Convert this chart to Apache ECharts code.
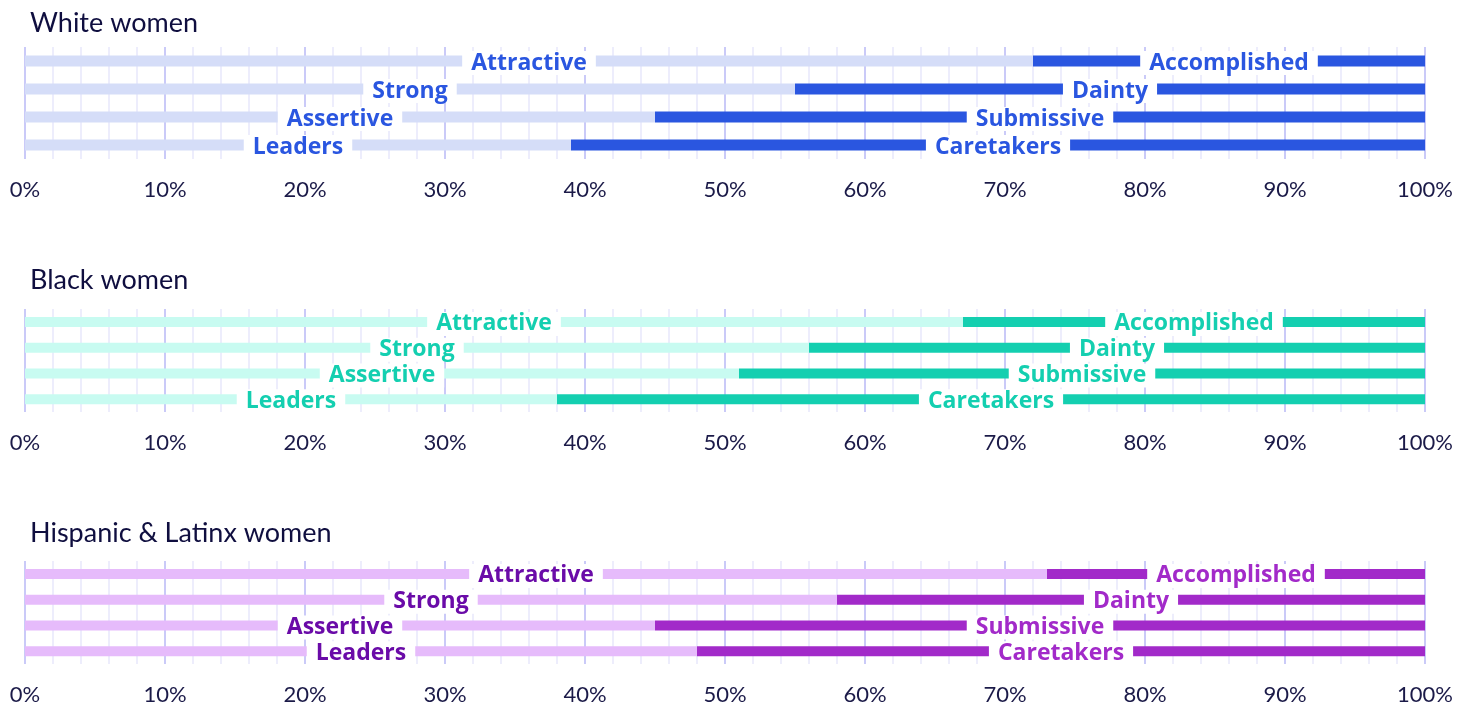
<!DOCTYPE html>
<html>
<head>
<meta charset="utf-8">
<script src="https://cdn.jsdelivr.net/npm/echarts@6/dist/echarts.min.js"></script>
<style>
html,body{margin:0;padding:0;background:#fff;}
#chart{width:1476px;height:706px;}
</style>
</head>
<body>
<div id="chart"></div>
<script>
const panelTitles = ['White women', 'Black women', 'Hispanic & Latinx women'];
const leftLabels = ['Attractive', 'Strong', 'Assertive', 'Leaders'];
const rightLabels = ['Accomplished', 'Dainty', 'Submissive', 'Caretakers'];
const categories = ['Attractive / Accomplished', 'Strong / Dainty', 'Assertive / Submissive', 'Leaders / Caretakers'];

const whiteLeft = [72, 55, 45, 39];
const whiteRight = [28, 45, 55, 61];
const blackLeft = [67, 56, 51, 38];
const blackRight = [33, 44, 49, 62];
const hispLeft = [73, 58, 45, 48];
const hispRight = [27, 42, 55, 52];

const panels = [
  {left: whiteLeft, right: whiteRight, light: '#d5ddf8', dark: '#2a56e0', lLab: '#2a56e0', rLab: '#2a56e0', top: 47, height: 112, bw: 11, titleTop: 10},
  {left: blackLeft, right: blackRight, light: '#c8fbf1', dark: '#14cfb0', lLab: '#14cfb0', rLab: '#14cfb0', top: 309, height: 103, bw: 10, titleTop: 267},
  {left: hispLeft, right: hispRight, light: '#e6bbfb', dark: '#a22ac9', lLab: '#6a0ba8', rLab: '#a22ac9', top: 561, height: 103, bw: 10, titleTop: 520}
];

const grid = [], xAxis = [], yAxis = [], series = [], title = [];
panels.forEach((p, i) => {
  title.push({text: panelTitles[i], left: 30, top: p.titleTop, padding: 0,
    textStyle: {fontFamily: 'Lato', fontWeight: 'normal', fontSize: 27, color: '#0f0e3f'}});
  grid.push({left: 25, right: 51, top: p.top, height: p.height, containLabel: false});
  xAxis.push({type: 'value', gridIndex: i, min: 0, max: 100, interval: 10,
    axisLine: {show: false}, axisTick: {show: false},
    axisLabel: {formatter: '{value}%', fontSize: 22, color: '#1b1a48', fontFamily: 'Lato', margin: 20},
    splitLine: {show: true, lineStyle: {color: '#b9b9f6', width: 1.5}},
    minorTick: {show: false, splitNumber: 5},
    minorSplitLine: {show: true, lineStyle: {color: '#e7e7fb', width: 1.5}}
  });
  yAxis.push({type: 'category', gridIndex: i, data: categories, inverse: true,
    axisLine: {show: false}, axisTick: {show: false}, axisLabel: {show: false}, splitLine: {show: false}});
  const mkLabel = (names, color) => ({
    show: true, position: 'inside', offset: [0, 2],
    formatter: (d) => names[d.dataIndex],
    color: color, fontFamily: 'Open Sans', fontWeight: 'bold', fontSize: 23,
    backgroundColor: '#ffffff', padding: [1, 9, 0, 9]
  });
  series.push({type: 'bar', name: 'left' + i, xAxisIndex: i, yAxisIndex: i, stack: 's' + i,
    data: p.left, barWidth: p.bw, itemStyle: {color: p.light}, label: mkLabel(leftLabels, p.lLab), silent: true});
  series.push({type: 'bar', name: 'right' + i, xAxisIndex: i, yAxisIndex: i, stack: 's' + i,
    data: p.right, barWidth: p.bw, itemStyle: {color: p.dark}, label: mkLabel(rightLabels, p.rLab), silent: true});
});

const chart = echarts.init(document.getElementById('chart'), null, {renderer: 'canvas'});
chart.setOption({animation: false, backgroundColor: '#ffffff', title, grid, xAxis, yAxis, series});
</script>
</body>
</html>
